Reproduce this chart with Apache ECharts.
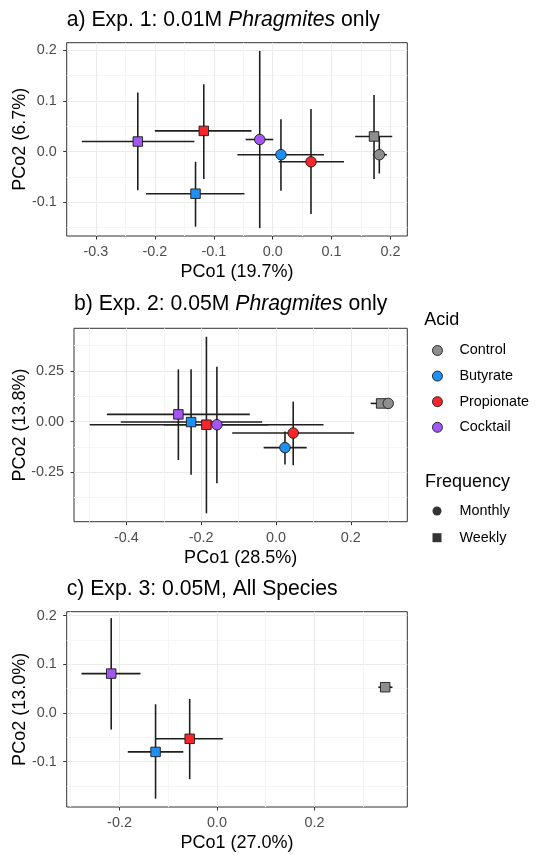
<!DOCTYPE html>
<html>
<head>
<meta charset="utf-8">
<script src="https://cdn.jsdelivr.net/npm/echarts@6.0.0/dist/echarts.min.js"></script>
<style>
  html, body { margin: 0; padding: 0; background: #fff; }
  #chart { width: 538px; height: 858px; }
</style>
</head>
<body>
<div id="chart"></div>
<script>
// Factor levels
const acids = ['Control', 'Butyrate', 'Propionate', 'Cocktail'];
const frequencies = ['Monthly', 'Weekly'];

// [acid, frequency, PCo1, PCo2, PCo1 low, PCo1 high, PCo2 low, PCo2 high]
const exp1Points = [
  ['Control', 'Weekly', 0.172, 0.030, 0.140, 0.203, -0.054, 0.112],
  ['Control', 'Monthly', 0.181, -0.006, 0.170, 0.194, -0.043, 0.030],
  ['Butyrate', 'Weekly', -0.131, -0.083, -0.215, -0.048, -0.148, -0.020],
  ['Butyrate', 'Monthly', 0.014, -0.006, -0.060, 0.087, -0.077, 0.064],
  ['Propionate', 'Weekly', -0.117, 0.041, -0.200, -0.036, -0.054, 0.133],
  ['Propionate', 'Monthly', 0.065, -0.020, 0.010, 0.121, -0.123, 0.084],
  ['Cocktail', 'Weekly', -0.229, 0.020, -0.324, -0.133, -0.076, 0.117],
  ['Cocktail', 'Monthly', -0.022, 0.024, -0.046, 0.001, -0.151, 0.199]
];
const exp2Points = [
  ['Control', 'Weekly', 0.281, 0.090, 0.253, 0.300, 0.085, 0.096],
  ['Control', 'Monthly', 0.300, 0.090, 0.290, 0.310, 0.080, 0.100],
  ['Butyrate', 'Weekly', -0.227, -0.002, -0.415, -0.037, -0.262, 0.258],
  ['Butyrate', 'Monthly', 0.024, -0.128, -0.033, 0.082, -0.211, -0.049],
  ['Propionate', 'Weekly', -0.186, -0.015, -0.498, 0.127, -0.452, 0.419],
  ['Propionate', 'Monthly', 0.046, -0.056, -0.117, 0.209, -0.215, 0.099],
  ['Cocktail', 'Weekly', -0.261, 0.036, -0.452, -0.070, -0.189, 0.258],
  ['Cocktail', 'Monthly', -0.158, -0.015, -0.300, -0.020, -0.304, 0.271]
];
const exp3Points = [
  ['Control', 'Weekly', 0.345, 0.053, 0.331, 0.360, 0.048, 0.058],
  ['Butyrate', 'Weekly', -0.126, -0.080, -0.183, -0.069, -0.176, 0.018],
  ['Propionate', 'Weekly', -0.056, -0.053, -0.126, 0.012, -0.136, 0.029],
  ['Cocktail', 'Weekly', -0.217, 0.081, -0.278, -0.157, -0.034, 0.195]
];

// axis limits and breaks
const exp1XRange = [-0.3497, 0.2285];
const exp1YRange = [-0.1665, 0.2151];
const exp1XTicks = [-0.3, -0.2, -0.1, 0, 0.1, 0.2];
const exp1XMinor = [-0.25, -0.15, -0.05, 0.05, 0.15];
const exp1YTicks = [-0.1, 0, 0.1, 0.2];
const exp1YMinor = [-0.15, -0.05, 0.05, 0.15];

const exp2XRange = [-0.540, 0.351];
const exp2YRange = [-0.4935, 0.4606];
const exp2XTicks = [-0.4, -0.2, 0, 0.2];
const exp2XMinor = [-0.5, -0.3, -0.1, 0.1, 0.3];
const exp2YTicks = [-0.25, 0, 0.25];
const exp2YMinor = [-0.375, -0.125, 0.125, 0.375];

const exp3XRange = [-0.3083, 0.3904];
const exp3YRange = [-0.1932, 0.2082];
const exp3XTicks = [-0.2, 0, 0.2];
const exp3XMinor = [-0.3, -0.1, 0.1, 0.3];
const exp3YTicks = [-0.1, 0, 0.1, 0.2];
const exp3YMinor = [-0.15, -0.05, 0.05, 0.15];

const titles = [
  ['a) Exp. 1: 0.01M ', 'Phragmites', ' only'],
  ['b) Exp. 2: 0.05M ', 'Phragmites', ' only'],
  ['c) Exp. 3: 0.05M, All Species', '', '']
];
const xNames = ['PCo1 (19.7%)', 'PCo1 (28.5%)', 'PCo1 (27.0%)'];
const yNames = ['PCo2 (6.7%)', 'PCo2 (13.8%)', 'PCo2 (13.0%)'];

// styling / layout
const FONT = "'Liberation Sans', Arial, sans-serif";
const acidColors = {
  Control: '#8e8e8e',
  Butyrate: '#1e8ff5',
  Propionate: '#f7262a',
  Cocktail: '#a456f5'
};
const layout = [
  { left: 66.7, top: 42.7, width: 340.6, height: 193.3, titleTop: 8.7, yGap: 38, yDec: 1 },
  { left: 74, top: 328.3, width: 333.3, height: 193.4, titleTop: 293.3, yGap: 44.5, yDec: 2 },
  { left: 66.7, top: 611.7, width: 340.6, height: 195.3, titleTop: 577.7, yGap: 38, yDec: 1 }
];

const panels = [
  { pts: exp1Points, xr: exp1XRange, yr: exp1YRange, xt: exp1XTicks, xm: exp1XMinor, yt: exp1YTicks, ym: exp1YMinor },
  { pts: exp2Points, xr: exp2XRange, yr: exp2YRange, xt: exp2XTicks, xm: exp2XMinor, yt: exp2YTicks, ym: exp2YMinor },
  { pts: exp3Points, xr: exp3XRange, yr: exp3YRange, xt: exp3XTicks, xm: exp3XMinor, yt: exp3YTicks, ym: exp3YMinor }
];

const chart = echarts.init(document.getElementById('chart'), null, { renderer: 'canvas' });

function fmt(dec) {
  return function (v) { return Number(v).toFixed(dec); };
}

function renderErr(params, api) {
  const x = api.value(0), y = api.value(1);
  const a = api.coord([api.value(2), y]);
  const b = api.coord([api.value(3), y]);
  const c = api.coord([x, api.value(4)]);
  const d = api.coord([x, api.value(5)]);
  const st = { stroke: '#1f1f1f', lineWidth: 1.6 };
  return {
    type: 'group',
    children: [
      { type: 'line', shape: { x1: a[0], y1: a[1], x2: b[0], y2: b[1] }, style: st },
      { type: 'line', shape: { x1: c[0], y1: c[1], x2: d[0], y2: d[1] }, style: st }
    ]
  };
}

const grids = [], xAxes = [], yAxes = [], series = [], titleList = [];

panels.forEach(function (p, i) {
  const L = layout[i];
  grids.push({
    left: L.left, top: L.top, width: L.width, height: L.height,
    containLabel: false, outerBoundsMode: 'none',
    show: true, borderColor: '#333', borderWidth: 1, backgroundColor: '#fff'
  });

  // major axes (labels, ticks, major grid)
  xAxes.push({
    type: 'value', gridIndex: i, min: p.xr[0], max: p.xr[1], position: 'bottom',
    name: xNames[i], nameLocation: 'middle', nameGap: 27, nameMoveOverlap: false,
    nameTextStyle: { fontSize: 18, color: '#000', fontFamily: FONT },
    axisLine: { show: false, onZero: false },
    axisTick: { show: true, length: 3.5, lineStyle: { color: '#333', width: 1 }, customValues: p.xt },
    axisLabel: { customValues: p.xt, formatter: fmt(1), fontSize: 14.4, color: '#4d4d4d', fontFamily: FONT, margin: 9 },
    splitLine: { show: true, lineStyle: { color: '#ebebeb', width: 1.1 } }
  });
  yAxes.push({
    type: 'value', gridIndex: i, min: p.yr[0], max: p.yr[1], position: 'left',
    name: yNames[i], nameLocation: 'middle', nameGap: L.yGap, nameMoveOverlap: false,
    nameTextStyle: { fontSize: 18, color: '#000', fontFamily: FONT },
    axisLine: { show: false, onZero: false },
    axisTick: { show: true, length: 3.5, lineStyle: { color: '#333', width: 1 }, customValues: p.yt },
    axisLabel: { customValues: p.yt, formatter: fmt(L.yDec), fontSize: 14.4, color: '#4d4d4d', fontFamily: FONT, margin: 10 },
    splitLine: { show: true, lineStyle: { color: '#ebebeb', width: 1.1 } }
  });

  // error bars
  series.push({
    type: 'custom', name: 'err' + i, xAxisIndex: i, yAxisIndex: i, z: 2, silent: true,
    renderItem: renderErr,
    encode: { x: 0, y: 1 },
    data: p.pts.map(function (r) { return r.slice(2); })
  });

  // points
  acids.forEach(function (acid) {
    const rows = p.pts.filter(function (r) { return r[0] === acid; });
    if (!rows.length) return;
    series.push({
      type: 'scatter', name: acid, xAxisIndex: i, yAxisIndex: i, z: 3, silent: true,
      itemStyle: { color: acidColors[acid], borderColor: '#1a1a1a', borderWidth: 0.9, opacity: 1 },
      data: rows.map(function (r) {
        return {
          value: [r[2], r[3]],
          symbol: r[1] === 'Monthly' ? 'circle' : 'rect',
          symbolSize: r[1] === 'Monthly' ? 10.5 : 9.5
        };
      })
    });
  });

  const t = titles[i];
  titleList.push({
    text: '{n|' + t[0] + '}' + (t[1] ? '{i|' + t[1] + '}{n|' + t[2] + '}' : ''),
    left: L.left, top: L.titleTop, padding: 0,
    textStyle: {
      fontFamily: FONT, fontSize: 21.2, fontWeight: 'normal', color: '#000', lineHeight: 22,
      rich: {
        n: { fontFamily: FONT, fontSize: 21.2, color: '#000', lineHeight: 22 },
        i: { fontFamily: FONT, fontSize: 21.2, color: '#000', lineHeight: 22, fontStyle: 'italic' }
      }
    }
  });
});

// minor grid lines on extra axes
panels.forEach(function (p, i) {
  xAxes.push({
    type: 'value', gridIndex: i, min: p.xr[0], max: p.xr[1], position: 'top',
    axisLine: { show: false, onZero: false }, axisLabel: { show: false },
    axisTick: { show: false, customValues: p.xm },
    splitLine: { show: true, lineStyle: { color: '#f5f5f5', width: 1 } }
  });
  yAxes.push({
    type: 'value', gridIndex: i, min: p.yr[0], max: p.yr[1], position: 'right',
    axisLine: { show: false, onZero: false }, axisLabel: { show: false },
    axisTick: { show: false, customValues: p.ym },
    splitLine: { show: true, lineStyle: { color: '#f5f5f5', width: 1 } }
  });
});

// empty series so the Frequency legend has entries
series.push(
  { type: 'scatter', name: 'Monthly', xAxisIndex: 0, yAxisIndex: 0, data: [], itemStyle: { color: '#000' } },
  { type: 'scatter', name: 'Weekly', xAxisIndex: 0, yAxisIndex: 0, data: [], itemStyle: { color: '#000' } }
);

titleList.push(
  { text: 'Acid', left: 424.3, top: 311, padding: 0,
    textStyle: { fontFamily: FONT, fontSize: 18, fontWeight: 'normal', color: '#000', lineHeight: 18 } },
  { text: 'Frequency', left: 425, top: 472.7, padding: 0,
    textStyle: { fontFamily: FONT, fontSize: 18, fontWeight: 'normal', color: '#000', lineHeight: 18 } }
);

const legendText = { fontFamily: FONT, fontSize: 14.4, color: '#000', lineHeight: 16, padding: [0, 0, 0, 12] };

chart.setOption({
  animation: false,
  backgroundColor: '#fff',
  title: titleList,
  grid: grids,
  xAxis: xAxes,
  yAxis: yAxes,
  legend: [
    {
      data: acids.map(function (a) { return { name: a, icon: 'circle' }; }),
      orient: 'vertical', left: 432, top: 342.5, padding: 0,
      itemWidth: 10, itemHeight: 10, itemGap: 9.6, selectedMode: false,
      textStyle: legendText,
      itemStyle: { borderColor: '#1a1a1a', borderWidth: 0.9 }
    },
    {
      data: [{ name: frequencies[0], icon: 'circle' }, { name: frequencies[1], icon: 'rect' }],
      orient: 'vertical', left: 432.5, top: 503, padding: 0,
      itemWidth: 9, itemHeight: 9, itemGap: 10.7, selectedMode: false,
      textStyle: Object.assign({}, legendText, { padding: [0, 0, 0, 13] })
    }
  ],
  series: series
});
</script>
</body>
</html>
